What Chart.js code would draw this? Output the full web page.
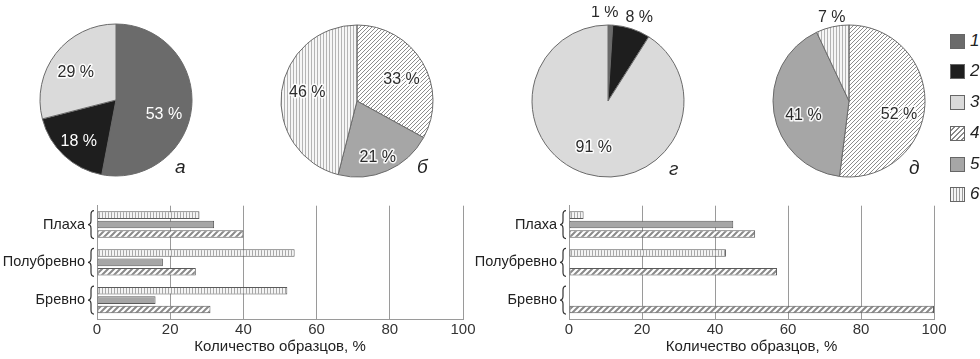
<!DOCTYPE html>
<html>
<head>
<meta charset="utf-8">
<script src="https://cdn.jsdelivr.net/npm/chart.js@4.4.1/dist/chart.umd.min.js"></script>
<style>
  body { margin:0; background:#fff; width:980px; height:359px; position:relative; overflow:hidden;
         font-family:"Liberation Sans", Arial, sans-serif; color:#222; }
  canvas { position:absolute; }
  .tag { position:absolute; font-style:italic; font-size:19px; line-height:19px; }
  .leg { position:absolute; left:950px; height:18px; display:flex; align-items:center; }
  .sw { width:13px; height:13px; border:1px solid #666; margin-right:5px; }
  .leg span { font-style:italic; font-size:17px; }
</style>
</head>
<body>
<canvas id="pieA" width="200" height="190" style="left:16px;top:5px"></canvas>
<canvas id="pieB" width="200" height="190" style="left:257px;top:6px"></canvas>
<canvas id="pieG" width="200" height="190" style="left:508px;top:6px"></canvas>
<canvas id="pieD" width="200" height="190" style="left:749px;top:6px"></canvas>
<canvas id="barsLeft" width="480" height="174" style="left:0;top:185px"></canvas>
<canvas id="barsRight" width="520" height="174" style="left:460px;top:185px"></canvas>

<div class="tag" style="left:175px;top:157px">а</div>
<div class="tag" style="left:417px;top:157px">б</div>
<div class="tag" style="left:669px;top:159px">г</div>
<div class="tag" style="left:909px;top:158px">д</div>

<div id="legend"></div>

<script>
// series 1..6
const seriesNames = ['1', '2', '3', '4', '5', '6'];

// pie shares, one value per series (0 = absent)
const pieA = [53, 18, 29, 0, 0, 0];
const pieB = [0, 0, 0, 33, 21, 46];
const pieG = [1, 8, 91, 0, 0, 0];
const pieD = [0, 0, 0, 52, 41, 7];

// bar charts
const categories = ['Плаха', 'Полубревно', 'Бревно'];
const left6 = [28, 54, 52];
const left5 = [32, 18, 16];
const left4 = [40, 27, 31];
const right6 = [4, 43, null];
const right5 = [45, null, null];
const right4 = [51, 57, 100];
const xTicks = [0, 20, 40, 60, 80, 100];

const FONT = '"Liberation Sans", Arial, sans-serif';

function hatch(step, lw, color) {
  const c = document.createElement('canvas');
  c.width = c.height = step;
  const g = c.getContext('2d');
  g.fillStyle = '#fff';
  g.fillRect(0, 0, step, step);
  g.strokeStyle = color;
  g.lineWidth = lw;
  g.beginPath();
  g.moveTo(-step, 2 * step); g.lineTo(2 * step, -step);
  g.moveTo(-step, step); g.lineTo(step, -step);
  g.moveTo(0, 2 * step); g.lineTo(2 * step, 0);
  g.stroke();
  return g.createPattern(c, 'repeat');
}

function stripes(step, lw, color, bg) {
  const c = document.createElement('canvas');
  c.width = step; c.height = 4;
  const g = c.getContext('2d');
  g.fillStyle = bg;
  g.fillRect(0, 0, step, 4);
  g.fillStyle = color;
  g.fillRect(0, 0, lw, 4);
  return g.createPattern(c, 'repeat');
}

const pieFill = ['#6b6b6b', '#1e1e1e', '#dadada', hatch(4, 1, '#8c8c8c'), '#a6a6a6', stripes(3, 1, '#b4b4b4', '#f6f6f6')];
const barFill = {
  s4: hatch(6, 2, '#8a8a8a'),
  s5: '#a6a6a6',
  s6: stripes(3, 1, '#a8a8a8', '#f4f4f4')
};
const darkSeries = [true, true, false, false, false, false];

const pieLabels = {
  id: 'pieLabels',
  afterDatasetsDraw(chart, args, opts) {
    const ctx = chart.ctx;
    const meta = chart.getDatasetMeta(0);
    const ds = chart.data.datasets[0];
    ctx.save();
    ctx.font = '16px ' + FONT;
    ctx.textAlign = 'center';
    ctx.textBaseline = 'middle';
    ctx.lineJoin = 'round';
    meta.data.forEach((arc, i) => {
      const v = ds.data[i];
      const mid = (arc.startAngle + arc.endAngle) / 2;
      const outside = v < 10;
      const r = outside ? arc.outerRadius + 12 : arc.outerRadius * 0.62;
      const nudge = (opts.nudge && opts.nudge[i]) || [0, 0];
      const x = arc.x + Math.cos(mid) * r + nudge[0];
      const y = arc.y + Math.sin(mid) * r + nudge[1];
      const txt = v + ' %';
      if (!outside && ds.dark[i]) {
        ctx.fillStyle = '#fff';
      } else {
        ctx.strokeStyle = 'rgba(255,255,255,0.9)';
        ctx.lineWidth = 3;
        ctx.strokeText(txt, x, y);
        ctx.fillStyle = '#2a2a2a';
      }
      ctx.fillText(txt, x, y);
    });
    ctx.restore();
  }
};

function makePie(id, values, nudge) {
  const data = [], colors = [], dark = [], names = [];
  values.forEach((v, i) => {
    if (v > 0) {
      data.push(v); colors.push(pieFill[i]); dark.push(darkSeries[i]); names.push(seriesNames[i]);
    }
  });
  return new Chart(id, {
    type: 'pie',
    data: {
      labels: names,
      datasets: [{ data: data, backgroundColor: colors, dark: dark, borderColor: '#6a6a6a', borderWidth: 1 }]
    },
    options: {
      responsive: false,
      animation: false,
      radius: 76,
      layout: { padding: 0 },
      plugins: { legend: { display: false }, tooltip: { enabled: false }, pieLabels: { nudge: nudge } }
    },
    plugins: [pieLabels]
  });
}

makePie('pieA', pieA, [[1, 10], [-5, 7], [-3, 1]]);
makePie('pieB', pieB, [[4, 3], [2, 13], [-3, -3]]);
makePie('pieG', pieG, [[-6, 0], [4, 0], [-1, 1]]);
makePie('pieD', pieD, [[3, 11], [1, 7], [2, 2]]);

const braces = {
  id: 'braces',
  afterDraw(chart) {
    const ctx = chart.ctx;
    const y = chart.scales.y;
    const xr = chart.chartArea.left - 3, xm = xr - 3, xl = xr - 6, h = 14;
    ctx.save();
    ctx.strokeStyle = '#333';
    ctx.lineWidth = 1.2;
    categories.forEach((c, i) => {
      const cy = y.getPixelForValue(i);
      ctx.beginPath();
      ctx.moveTo(xr, cy - h);
      ctx.quadraticCurveTo(xm, cy - h, xm, cy - h + 4);
      ctx.lineTo(xm, cy - 4);
      ctx.quadraticCurveTo(xm, cy, xl, cy);
      ctx.quadraticCurveTo(xm, cy, xm, cy + 4);
      ctx.lineTo(xm, cy + h - 4);
      ctx.quadraticCurveTo(xm, cy + h, xr, cy + h);
      ctx.stroke();
    });
    ctx.restore();
  }
};

function makeBars(id, s6, s5, s4, axisLeft, padRight) {
  const common = { borderColor: '#5a5a5a', borderWidth: 1, borderSkipped: false,
                   categoryPercentage: 0.75, barPercentage: 0.8 };
  return new Chart(id, {
    type: 'bar',
    data: {
      labels: categories,
      datasets: [
        Object.assign({ label: '6', data: s6, backgroundColor: barFill.s6 }, common),
        Object.assign({ label: '5', data: s5, backgroundColor: barFill.s5 }, common),
        Object.assign({ label: '4', data: s4, backgroundColor: barFill.s4 }, common)
      ]
    },
    options: {
      indexAxis: 'y',
      responsive: false,
      animation: false,
      layout: { padding: { top: 14, right: padRight, left: 0, bottom: 0 } },
      scales: {
        x: {
          min: 0, max: 100,
          afterBuildTicks: s => { s.ticks = xTicks.map(v => ({ value: v })); },
          ticks: { padding: 2, color: '#333', font: { family: FONT, size: 15 } },
          grid: { color: '#9a9a9a', drawTicks: false },
          border: { color: '#9a9a9a' },
          title: { display: true, text: 'Количество образцов, %', color: '#222',
                   font: { family: FONT, size: 15 }, padding: { top: 0, bottom: 3 } },
          afterFit: s => { s.height = 40; }
        },
        y: {
          grid: { display: false, drawTicks: false },
          border: { color: '#9a9a9a' },
          ticks: { padding: 12, color: '#222', font: { family: FONT, size: 14.5 } },
          afterFit: s => { s.width = axisLeft; }
        }
      },
      plugins: { legend: { display: false }, tooltip: { enabled: false } }
    },
    plugins: [braces]
  });
}

makeBars('barsLeft', left6, left5, left4, 97, 17);
makeBars('barsRight', right6, right5, right4, 109, 46);

// shared legend
const legendFill = [
  'background:#6b6b6b',
  'background:#1e1e1e',
  'background:#dadada',
  'background:repeating-linear-gradient(135deg,#fff 0 2px,#8a8a8a 2px 3.5px)',
  'background:#a6a6a6',
  'background:repeating-linear-gradient(90deg,#f4f4f4 0 2px,#9a9a9a 2px 3px)'
];
const legendY = [41, 71, 102, 133, 164, 194];
const legend = document.getElementById('legend');
seriesNames.forEach((n, i) => {
  const row = document.createElement('div');
  row.className = 'leg';
  row.style.top = (legendY[i] - 9) + 'px';
  row.innerHTML = '<div class="sw" style="' + legendFill[i] + '"></div><span>' + n + '</span>';
  legend.appendChild(row);
});
</script>
</body>
</html>
